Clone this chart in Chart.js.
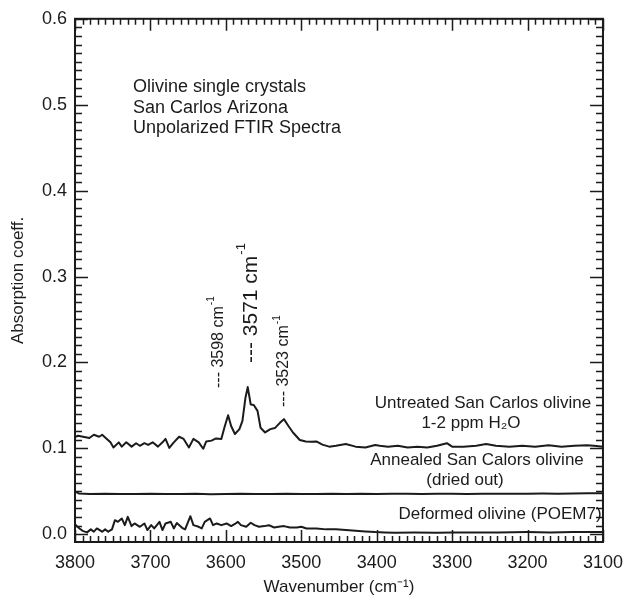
<!DOCTYPE html>
<html>
<head>
<meta charset="utf-8">
<script src="https://cdn.jsdelivr.net/npm/chart.js@4/dist/chart.umd.min.js"></script>
<style>
  html, body { margin: 0; padding: 0; background: #fff; }
  #wrap { width: 633px; height: 598px; }
</style>
</head>
<body>
<div id="wrap"><canvas id="ftirChart" width="633" height="598"></canvas></div>
<script>
// [wavenumber (cm-1), absorption coeff.]
const untreated = [
  [3800, 0.113], [3796, 0.1147], [3781, 0.112], [3775, 0.1158], [3768, 0.1135],
  [3764, 0.1158], [3760, 0.1127], [3753, 0.107], [3749, 0.101], [3742, 0.107],
  [3738, 0.102], [3732, 0.107], [3725, 0.102], [3719, 0.106], [3714, 0.103],
  [3708, 0.106], [3703, 0.104], [3697, 0.107], [3690, 0.102], [3684, 0.107],
  [3680, 0.111], [3675, 0.1005], [3669, 0.107], [3662, 0.1135], [3656, 0.111],
  [3649, 0.101], [3643, 0.111], [3636, 0.107], [3630, 0.0995], [3626, 0.108],
  [3619, 0.109], [3613, 0.1116], [3606, 0.111], [3602, 0.124], [3597, 0.1386],
  [3593, 0.126], [3588, 0.1167], [3582, 0.1224], [3578, 0.132], [3574, 0.159],
  [3571, 0.1713], [3567, 0.151], [3563, 0.1505], [3558, 0.1436], [3554, 0.124],
  [3548, 0.1185], [3541, 0.1224], [3535, 0.1236], [3528, 0.130], [3523, 0.134],
  [3517, 0.126], [3511, 0.1185], [3502, 0.1097], [3494, 0.108], [3487, 0.1077],
  [3480, 0.108], [3472, 0.1043], [3463, 0.102], [3454, 0.103], [3441, 0.105],
  [3428, 0.102], [3415, 0.101], [3402, 0.104], [3396, 0.103], [3385, 0.102],
  [3372, 0.103], [3359, 0.101], [3346, 0.102], [3333, 0.101], [3320, 0.103],
  [3307, 0.106], [3300, 0.102], [3285, 0.102], [3268, 0.103], [3255, 0.105],
  [3242, 0.103], [3224, 0.102], [3207, 0.103], [3190, 0.102], [3172, 0.1035],
  [3155, 0.102], [3138, 0.103], [3121, 0.1035], [3112, 0.103], [3100, 0.102]
];

const annealed = [
  [3800, 0.050], [3795, 0.0475], [3780, 0.047], [3760, 0.0472], [3740, 0.0468],
  [3720, 0.047], [3700, 0.0473], [3680, 0.0468], [3660, 0.047], [3640, 0.0472],
  [3620, 0.0467], [3600, 0.047], [3580, 0.0472], [3560, 0.0468], [3540, 0.047],
  [3520, 0.0471], [3500, 0.0468], [3480, 0.047], [3460, 0.0472], [3440, 0.047],
  [3420, 0.0473], [3400, 0.047], [3380, 0.0472], [3360, 0.0471], [3340, 0.047],
  [3320, 0.0473], [3300, 0.0472], [3280, 0.047], [3260, 0.0472], [3240, 0.0471],
  [3220, 0.0473], [3200, 0.0472], [3180, 0.0474], [3160, 0.0473], [3140, 0.0475],
  [3120, 0.0477], [3100, 0.0478]
];

const deformed = [
  [3800, 0.011], [3799, 0.0106], [3794, 0.0068], [3790, 0.004], [3784, 0.0022],
  [3779, 0.0057], [3775, 0.003], [3771, 0.0068], [3764, 0.003], [3760, 0.0057],
  [3756, 0.003], [3751, 0.0057], [3747, 0.0164], [3743, 0.0145], [3738, 0.0184],
  [3734, 0.0106], [3730, 0.0203], [3725, 0.0095], [3721, 0.0126], [3714, 0.0087],
  [3708, 0.0126], [3704, 0.0049], [3699, 0.0106], [3695, 0.0068], [3688, 0.0145],
  [3684, 0.0049], [3680, 0.0126], [3673, 0.0145], [3669, 0.0068], [3665, 0.013],
  [3658, 0.0075], [3654, 0.0057], [3647, 0.021], [3643, 0.0106], [3636, 0.0087],
  [3632, 0.0068], [3628, 0.0145], [3621, 0.0184], [3617, 0.0106], [3612, 0.0126],
  [3606, 0.0106], [3599, 0.0126], [3593, 0.0095], [3588, 0.012], [3584, 0.0145],
  [3580, 0.0106], [3573, 0.0087], [3567, 0.0134], [3562, 0.0106], [3556, 0.0087],
  [3549, 0.0095], [3543, 0.0106], [3536, 0.0079], [3530, 0.0087], [3523, 0.0095],
  [3515, 0.0079], [3506, 0.0079], [3500, 0.0087], [3493, 0.0068], [3480, 0.0068],
  [3467, 0.0057], [3454, 0.0057], [3441, 0.0049], [3428, 0.004], [3415, 0.0033],
  [3402, 0.0025], [3389, 0.0022], [3376, 0.0018], [3350, 0.002], [3320, 0.0018],
  [3300, 0.0022], [3270, 0.002], [3240, 0.0022], [3200, 0.0025], [3170, 0.0022],
  [3140, 0.0025], [3100, 0.0025]
];

const peakLabels = [
  { wn: 3598, text: "--- 3598 cm", size: 16 },
  { wn: 3571, text: "--- 3571 cm", size: 21 },
  { wn: 3523, text: "--- 3523 cm", size: 16 }
];

const xRange = [3100, 3800];
const yRange = [-0.009, 0.6];

const FONT = "'Liberation Sans', Arial, Helvetica, sans-serif";
const INK = "#1b1b1b";

function toPoints(series) {
  return series.map(function (p) { return { x: p[0], y: p[1] }; });
}

function lineSet(series) {
  return {
    data: toPoints(series),
    borderColor: INK,
    borderWidth: 2,
    pointRadius: 0,
    tension: 0,
    borderJoinStyle: "round",
    fill: false
  };
}

// frame with inward major/minor ticks on all four sides
const framePlugin = {
  id: "frame",
  afterDatasetsDraw(chart) {
    const ctx = chart.ctx;
    const a = chart.chartArea;
    const xs = chart.scales.x;
    const ys = chart.scales.y;
    ctx.save();
    ctx.strokeStyle = INK;
    ctx.lineWidth = 1.5;
    for (let w = 3100; w <= 3800; w += 10) {
      const px = Math.round(xs.getPixelForValue(w)) + 0.5;
      const len = w % 100 === 0 ? 12 : 6;
      ctx.beginPath();
      ctx.moveTo(px, a.bottom); ctx.lineTo(px, a.bottom - len);
      ctx.moveTo(px, a.top); ctx.lineTo(px, a.top + len);
      ctx.stroke();
    }
    for (let i = 0; i <= 60; i++) {
      const py = Math.round(ys.getPixelForValue(i / 100)) + 0.5;
      const len = i % 10 === 0 ? 13 : 7;
      ctx.beginPath();
      ctx.moveTo(a.left, py); ctx.lineTo(a.left + len, py);
      ctx.moveTo(a.right, py); ctx.lineTo(a.right - len, py);
      ctx.stroke();
    }
    ctx.lineWidth = 2;
    ctx.strokeRect(a.left, a.top, a.right - a.left, a.bottom - a.top);
    ctx.restore();
  }
};

const notesPlugin = {
  id: "notes",
  afterDatasetsDraw(chart) {
    const ctx = chart.ctx;
    const xs = chart.scales.x;
    ctx.save();
    ctx.fillStyle = INK;
    ctx.textBaseline = "middle";

    ctx.font = "18px " + FONT;
    ctx.textAlign = "left";
    ctx.fillText("Olivine single crystals", 133, 87);
    ctx.fillText("San Carlos Arizona", 133, 108);
    ctx.fillText("Unpolarized FTIR Spectra", 133, 128);

    ctx.font = "17px " + FONT;
    ctx.textAlign = "center";
    ctx.fillText("Untreated San Carlos olivine", 483, 403);
    ctx.fillText("1-2 ppm H\u2082O", 471, 423);
    ctx.fillText("Annealed San Calors olivine", 477, 460);
    ctx.fillText("(dried out)", 465, 480);
    ctx.fillText("Deformed olivine (POEM7)", 500, 514);

    // rotated peak markers
    const offsets = { 3598: [-9, 388], 3571: [3, 363], 3523: [0, 407] };
    peakLabels.forEach(function (p) {
      const o = offsets[p.wn];
      const x = xs.getPixelForValue(p.wn) + o[0];
      ctx.save();
      ctx.translate(x, o[1]);
      ctx.rotate(-Math.PI / 2);
      ctx.textAlign = "left";
      ctx.font = p.size + "px " + FONT;
      ctx.fillText(p.text, 0, 0);
      const w = ctx.measureText(p.text).width;
      ctx.font = Math.round(p.size * 0.62) + "px " + FONT;
      ctx.fillText("-1", w + 1, -p.size * 0.42);
      ctx.restore();
    });
    ctx.restore();
  }
};

new Chart(document.getElementById("ftirChart").getContext("2d"), {
  type: "line",
  data: {
    datasets: [lineSet(untreated), lineSet(annealed), lineSet(deformed)]
  },
  options: {
    responsive: false,
    animation: false,
    parsing: false,
    layout: { padding: { top: 18, right: 21, left: 0, bottom: 0 } },
    plugins: {
      legend: { display: false },
      tooltip: { enabled: false }
    },
    scales: {
      x: {
        type: "linear",
        reverse: true,
        min: xRange[0],
        max: xRange[1],
        grid: { display: false, drawTicks: false },
        border: { display: false },
        ticks: {
          stepSize: 100,
          padding: 10,
          color: INK,
          maxRotation: 0,
          font: { family: FONT, size: 18 },
          callback: function (v) { return String(v); }
        },
        title: {
          display: true,
          text: "Wavenumber (cm\u207B\u00B9)",
          color: INK,
          padding: { top: 0, bottom: 0 },
          font: { family: FONT, size: 17 }
        },
        afterFit(scale) { scale.height = 56; }
      },
      y: {
        min: yRange[0],
        max: yRange[1],
        grid: { display: false, drawTicks: false },
        border: { display: false },
        ticks: {
          stepSize: 0.1,
          includeBounds: false,
          padding: 8,
          color: INK,
          font: { family: FONT, size: 18 },
          callback: function (v) { return Number(v).toFixed(1); }
        },
        title: {
          display: true,
          text: "Absorption coeff.",
          color: INK,
          padding: { top: 8, bottom: 0 },
          font: { family: FONT, size: 17 }
        },
        afterFit(scale) { scale.width = 75; }
      }
    }
  },
  plugins: [framePlugin, notesPlugin]
});
</script>
</body>
</html>
